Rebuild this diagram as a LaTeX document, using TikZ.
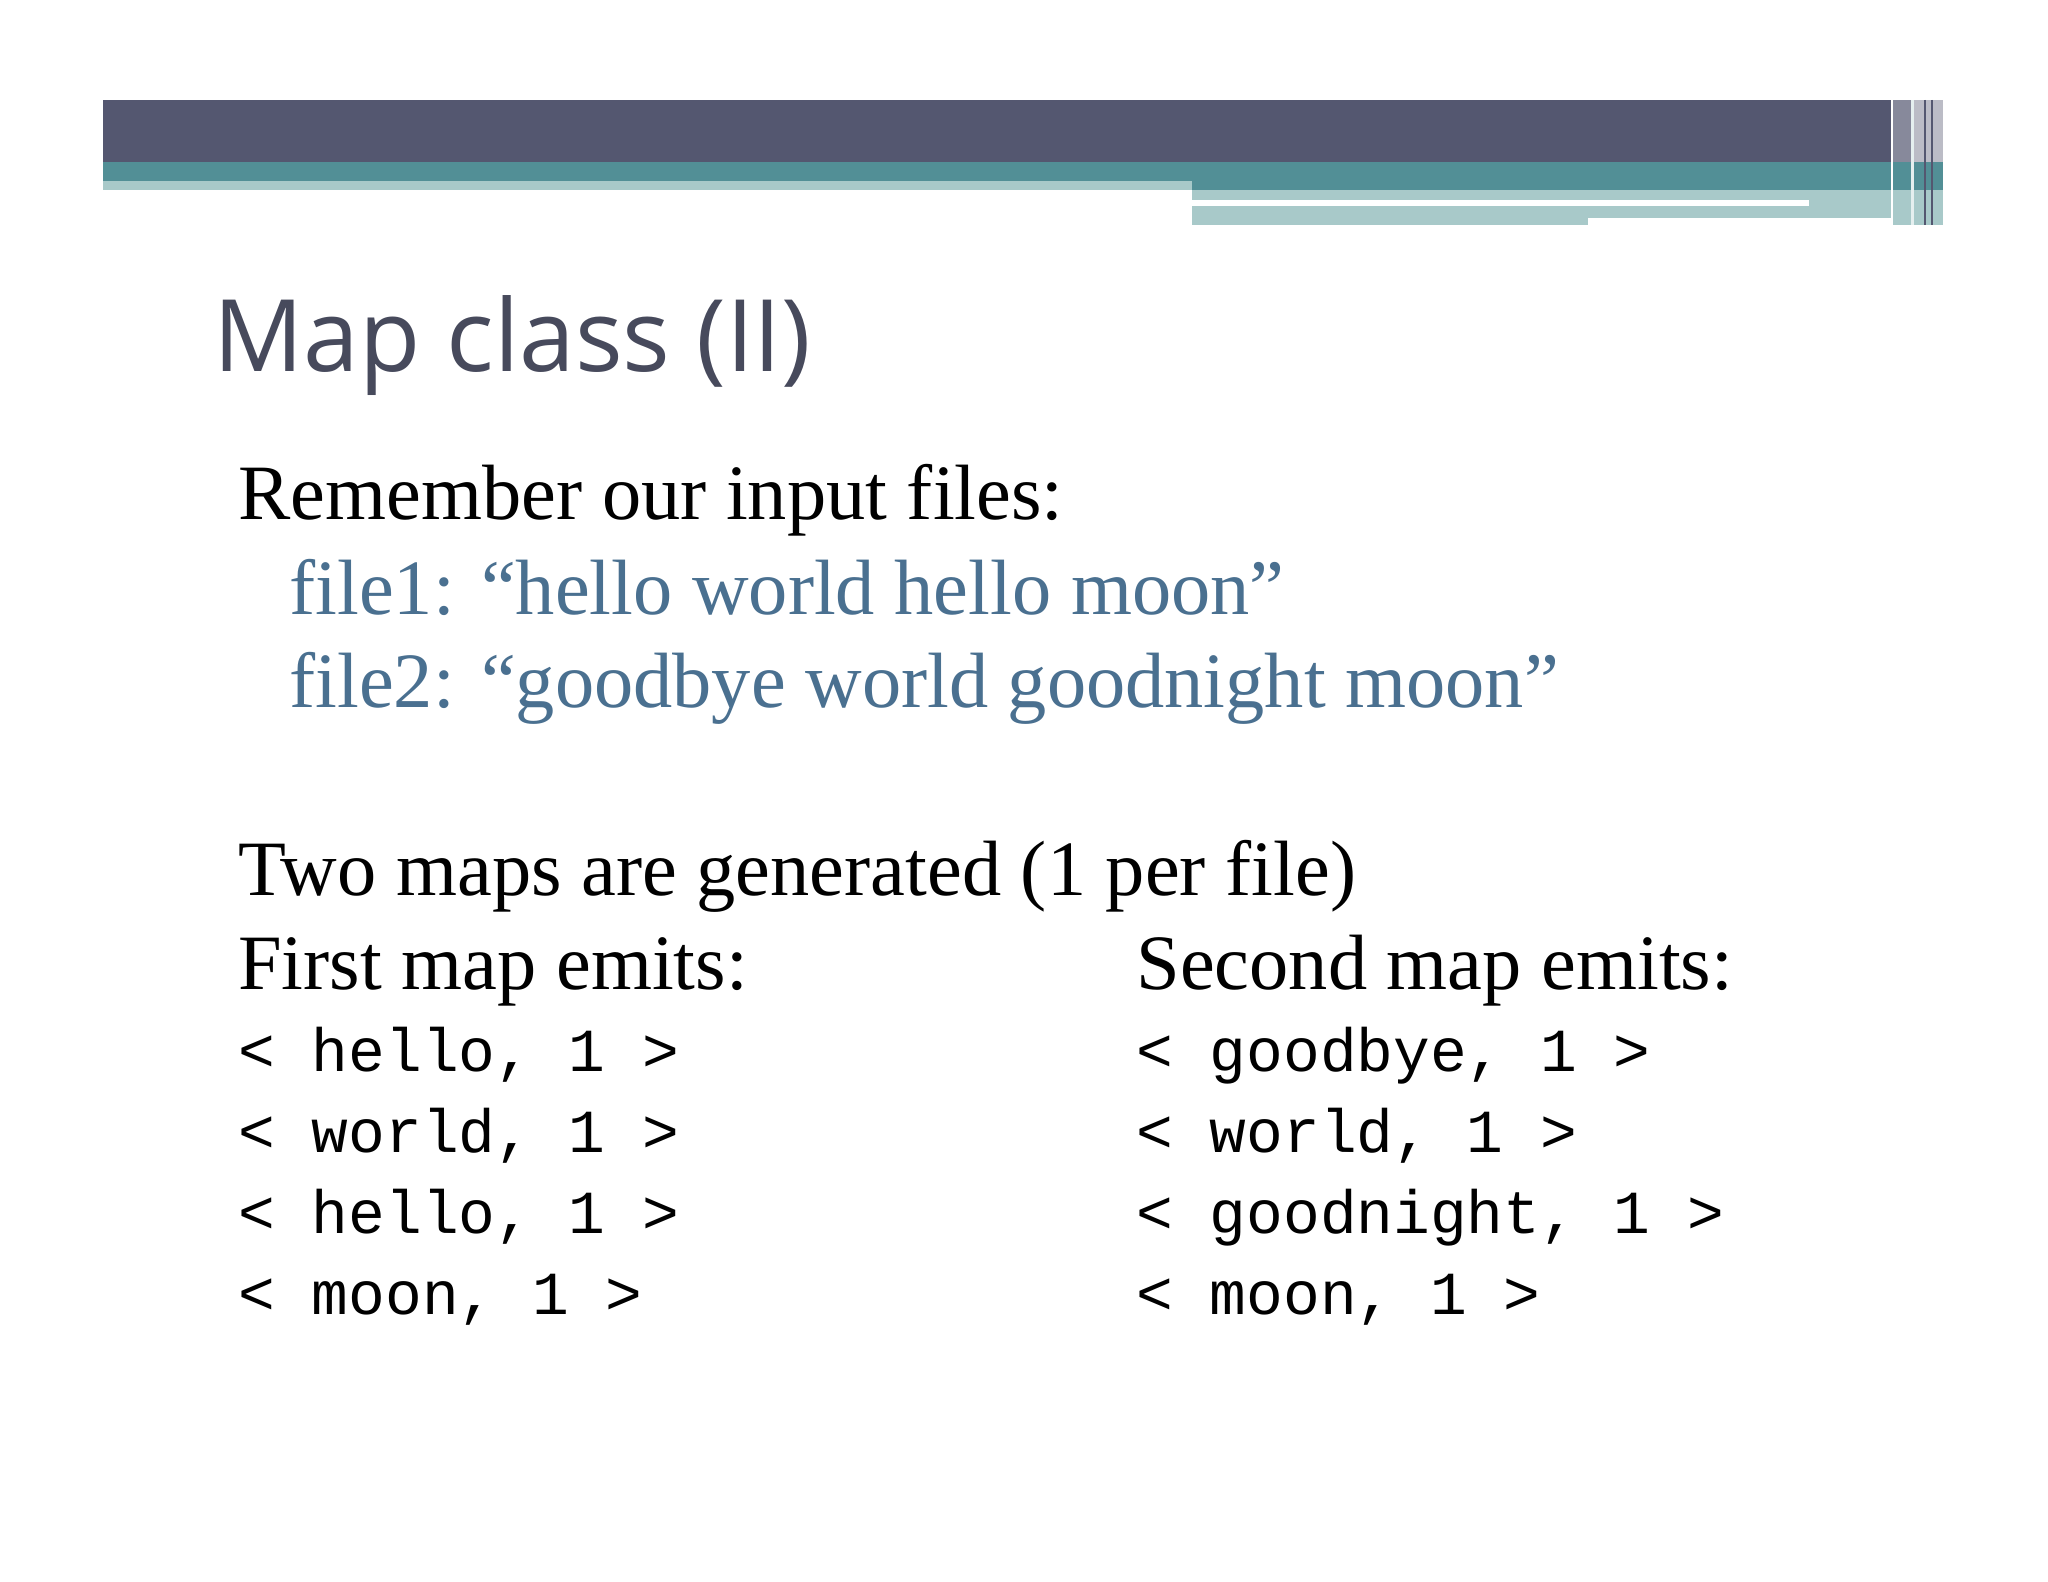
\documentclass[tikz,border=0pt]{standalone}
\usepackage{fontspec}
\setmainfont{Liberation Serif}
\setmonofont{Liberation Mono}
\newfontfamily\titlefont{Open Sans}
\definecolor{darkband}{HTML}{545770}
\definecolor{tealband}{HTML}{528F96}
\definecolor{lightband}{HTML}{A8C9C9}
\definecolor{titlecol}{HTML}{474A5C}
\definecolor{bluetxt}{HTML}{4A7090}
\tikzset{
  body/.style={anchor=base west,inner sep=0pt,font=\fontsize{39.2}{41}\selectfont},
  mono/.style={anchor=base west,inner sep=0pt,font=\ttfamily\fontsize{30.6}{33}\selectfont},
}
\begin{document}
\begin{tikzpicture}[x=0.5pt,y=-0.5pt]
\useasboundingbox (0,0) rectangle (2048,1582);
% header bands
\fill[lightband] (103,181) rectangle (1192,190);
\fill[lightband] (1192,190) rectangle (1943,218);
\fill[white] (1192,200) rectangle (1809,206);
\fill[lightband] (1192,218) rectangle (1588,225);
\fill[lightband] (1891,218) rectangle (1943,225);
\fill[tealband] (103,162) rectangle (1943,181);
\fill[tealband] (1192,181) rectangle (1943,190);
\fill[darkband] (103,100) rectangle (1891,162);
\fill[darkband!70] (1891,100) rectangle (1912,162);
\fill[darkband!40] (1912,100) rectangle (1943,162);
\draw[white,line width=0.8] (1892,100) -- (1892,225);
\draw[white!70!lightband,line width=1.5] (1912,100) -- (1912,225);
\draw[darkband,line width=1] (1925,100) -- (1925,225);
\draw[darkband,line width=1] (1932,100) -- (1932,225);
% title
\node[anchor=base west,inner sep=0pt,text=titlecol,font=\titlefont\fontsize{50}{52}\selectfont] (title) at (213,372) {Map class (II)};
% body
\node[body] (rem) at (238,520) {Remember our input files:};
\node[body,text=bluetxt] (f1) at (289,614) {file1: “hello world hello moon”};
\node[body,text=bluetxt] (f2) at (289,707) {file2: “goodbye world goodnight moon”};
\node[body] (two) at (238,895) {Two maps are generated (1 per file)};
\node[body] (first) at (238,989) {First map emits:};
\node[body] (second) at (1136,989) {Second map emits:};
\node[mono] (a1) at (238,1071) {< hello, 1 >};
\node[mono] (a2) at (238,1152) {< world, 1 >};
\node[mono] (a3) at (238,1233) {< hello, 1 >};
\node[mono] (a4) at (238,1314) {< moon, 1 >};
\node[mono] (b1) at (1136,1071) {< goodbye, 1 >};
\node[mono] (b2) at (1136,1152) {< world, 1 >};
\node[mono] (b3) at (1136,1233) {< goodnight, 1 >};
\node[mono] (b4) at (1136,1314) {< moon, 1 >};
\end{tikzpicture}
\end{document}
